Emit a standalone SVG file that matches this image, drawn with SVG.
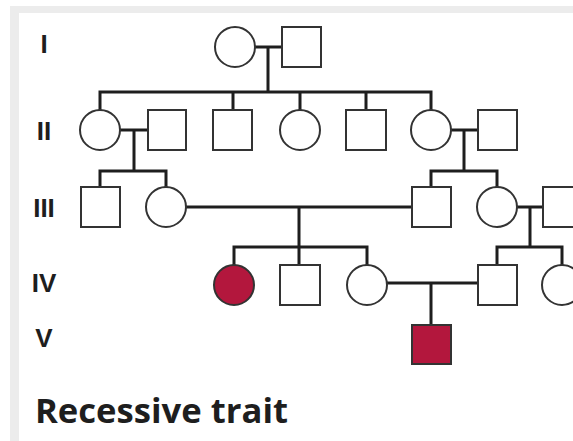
<svg xmlns="http://www.w3.org/2000/svg" width="573" height="441" viewBox="0 0 573 441">
<style>
.ind{fill:#ffffff;stroke:#333333;stroke-width:2}
.aff{fill:#b3173d;stroke:#333333;stroke-width:2}
.con{fill:none;stroke:#1e1e1e;stroke-width:3;stroke-linejoin:miter}
.gen{font-family:"Liberation Sans",Arial,sans-serif;font-weight:bold;font-size:26px;fill:#1e1e1e;text-anchor:middle}
.title{font-family:"Open Sans","Liberation Sans",sans-serif;font-weight:bold;font-size:34px;fill:#1e1e1e}
</style>
<rect x="10" y="6" width="563" height="435" fill="#ececec"/>
<rect x="19" y="13" width="554" height="428" fill="#ffffff"/>
<g id="labels">
<text class="gen" x="44" y="53">I</text>
<text class="gen" x="44" y="140">II</text>
<text class="gen" x="44" y="217">III</text>
<text class="gen" x="44" y="292">IV</text>
<text class="gen" x="44" y="347">V</text>
</g>
<g id="connectors">
<path class="con" d="M255 47H282M268 47V92"/>
<path class="con" d="M100 110V92H431V110M233 92V110M300 92V110M366 92V110"/>
<path class="con" d="M120 130H148M134 130V171M100 187V171H166V187"/>
<path class="con" d="M451 130H478M464 130V171M431 187V171H497V187"/>
<path class="con" d="M186 207H412M299 207V265M234 265V247H367V265"/>
<path class="con" d="M517 207H543M530 207V247M497 265V247H562V265"/>
<path class="con" d="M387 283H478M431 283V325"/>
</g>
<g id="I-1"><circle class="ind" cx="235" cy="47" r="20"/></g>
<g id="I-2"><rect class="ind" x="282" y="27" width="39" height="40"/></g>
<g id="II-1"><circle class="ind" cx="100" cy="130" r="20"/></g>
<g id="II-2"><rect class="ind" x="148" y="110" width="38" height="40"/></g>
<g id="II-3"><rect class="ind" x="213" y="110" width="39" height="40"/></g>
<g id="II-4"><circle class="ind" cx="300" cy="130" r="20"/></g>
<g id="II-5"><rect class="ind" x="346" y="110" width="40" height="40"/></g>
<g id="II-6"><circle class="ind" cx="431" cy="130" r="20"/></g>
<g id="II-7"><rect class="ind" x="478" y="110" width="39" height="40"/></g>
<g id="III-1"><rect class="ind" x="81" y="187" width="39" height="40"/></g>
<g id="III-2"><circle class="ind" cx="166" cy="207" r="20"/></g>
<g id="III-3"><rect class="ind" x="412" y="187" width="39" height="40"/></g>
<g id="III-4"><circle class="ind" cx="497" cy="207" r="20"/></g>
<g id="III-5"><rect class="ind" x="543" y="187" width="39" height="40"/></g>
<g id="IV-1"><circle class="aff" cx="234" cy="285" r="20"/></g>
<g id="IV-2"><rect class="ind" x="280" y="265" width="40" height="40"/></g>
<g id="IV-3"><circle class="ind" cx="367" cy="285" r="20"/></g>
<g id="IV-4"><rect class="ind" x="478" y="265" width="39" height="40"/></g>
<g id="IV-5"><circle class="ind" cx="562" cy="285" r="20"/></g>
<g id="V-1"><rect class="aff" x="412" y="325" width="39" height="39"/></g>
<text class="title" x="35" y="423" textLength="253" lengthAdjust="spacingAndGlyphs">Recessive trait</text>
</svg>
